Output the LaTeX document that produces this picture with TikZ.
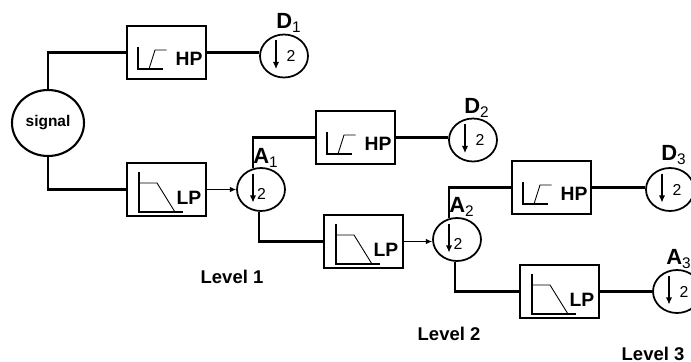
\documentclass[tikz,border=0pt]{standalone}
\usepackage{fontspec}
\setmainfont{Liberation Sans}
\usepackage{tikz}
\usetikzlibrary{shapes.geometric}
\usetikzlibrary{arrows.meta}
\tikzset{
	filterbox/.style={draw=black, line width=1.15pt, minimum width=1.58cm, minimum height=1.06cm, inner sep=0pt},
	downcircle/.style={draw=black, ellipse, line width=1pt, minimum width=0.96cm, minimum height=0.86cm, inner sep=0pt},
	wire/.style={black, line width=1.15pt},
	thinwire/.style={black, line width=0.55pt, -{Latex[length=3.5pt,width=3pt]}},
	levellabel/.style={inner sep=0pt, font=\fontsize{10.5}{12}\selectfont\bfseries},
	bandlabel/.style={inner sep=0pt, font=\fontsize{11}{12}\selectfont\bfseries},
	coeflabel/.style={inner sep=0pt, font=\fontsize{12.5}{14}\selectfont\bfseries}
}
% curve inside a high pass box
\newcommand{\hpmark}[1]{
	\begin{scope}[shift={(#1.center)}]
		\draw[black, line width=1.1pt] (-28.5,-5.5)--(-28.5,16.5)--(-3.5,16.5);
		\draw[black, line width=0.5pt] (-17.5,16.5)--(-11.5,-2.5)--(0,-2.5);
		\node[bandlabel] (#1text) at (22.5,6.5) {HP};
	\end{scope}
}
% curve inside a low pass box
\newcommand{\lpmark}[1]{
	\begin{scope}[shift={(#1.center)}]
		\draw[black, line width=1.1pt] (-27.5,-17.5)--(-27.5,22.5)--(16.5,22.5);
		\draw[black, line width=0.5pt] (-27.5,-6.5)--(-9.5,-6.5)--(8.5,22.5);
		\node[bandlabel] (#1text) at (22.5,8.5) {LP};
	\end{scope}
}
% downsampling arrow and factor, #2 and #3 place the factor
\newcommand{\downmark}[3]{
	\begin{scope}[shift={(#1.center)}]
		\draw[black, line width=0.6pt, -{Latex[length=4pt,width=3.5pt]}] (-8,-16)--(-8,13);
		\node[font=\fontsize{9}{10}\selectfont] (#1two) at (#2,#3) {2};
	\end{scope}
}
\begin{document}
\begin{tikzpicture}[x=0.02cm, y=-0.02cm]
	\useasboundingbox (0,0) rectangle (691,362);
	\clip (0,0) rectangle (691,362);

	\node[draw=black, ellipse, line width=1.2pt, minimum width=1.44cm, minimum height=1.32cm, inner sep=0pt, font=\fontsize{8.8}{11}\selectfont\bfseries] (signal) at (48,123) {signal};

	\node[filterbox] (hpone) at (166.5,52.5) {};
	\node[filterbox] (lpone) at (166.5,189.5) {};
	\node[filterbox] (hptwo) at (355.5,137.5) {};
	\node[filterbox] (lptwo) at (363.5,241.5) {};
	\node[filterbox] (hpthree) at (551.5,187.5) {};
	\node[filterbox] (lpthree) at (559.5,291.5) {};

	\node[downcircle] (done) at (284,56) {};
	\node[downcircle] (aone) at (261,189.5) {};
	\node[downcircle] (dtwo) at (473,140) {};
	\node[downcircle] (atwo) at (457,239.5) {};
	\node[downcircle] (dthree) at (670,189.5) {};
	\node[downcircle] (athree) at (677,291.5) {};

	\hpmark{hpone}
	\lpmark{lpone}
	\hpmark{hptwo}
	\lpmark{lptwo}
	\hpmark{hpthree}
	\lpmark{lpthree}

	\downmark{done}{7}{0}
	\downmark{aone}{0.5}{4}
	\downmark{dtwo}{7}{0}
	\downmark{atwo}{1}{4}
	\downmark{dthree}{7}{0}
	\downmark{athree}{7}{0}

	\draw[wire] (signal.north) |- (hpone.west);
	\draw[wire] (signal.south) |- (lpone.west);
	\draw[wire] (hpone.east)--(done.west |- hpone.east);
	\draw[thinwire] (lpone.east)--(aone.west);
	\draw[wire] (aone.110) |- (hptwo.west);
	\draw[wire] (aone.south -| 259,0) |- (lptwo.west);
	\draw[wire] (hptwo.east)--(dtwo.west |- hptwo.east);
	\draw[thinwire] (lptwo.east)--(atwo.west |- lptwo.east);
	\draw[wire] (atwo.110) |- (hpthree.west);
	\draw[wire] (atwo.south -| 455,0) |- (lpthree.west);
	\draw[wire] (hpthree.east)--(dthree.west |- hpthree.east);
	\draw[wire] (lpthree.east)--(athree.west |- lpthree.east);

	\node[coeflabel] (done label) at (289,23) {D\textsubscript{\mdseries 1}};
	\node[coeflabel] (dtwo label) at (477,108) {D\textsubscript{\mdseries 2}};
	\node[coeflabel] (dthree label) at (674,155) {D\textsubscript{\mdseries 3}};
	\node[coeflabel] (aone label) at (266,158) {A\textsubscript{\mdseries 1}};
	\node[coeflabel] (atwo label) at (462,207) {A\textsubscript{\mdseries 2}};
	\node[coeflabel, anchor=west] (athree label) at (666,259) {A\textsubscript{\mdseries 3}};

	\node[levellabel] (levelone) at (232,277) {Level 1};
	\node[levellabel] (leveltwo) at (449,334) {Level 2};
	\node[levellabel] (levelthree) at (653,353.5) {Level 3};
\end{tikzpicture}
\end{document}
